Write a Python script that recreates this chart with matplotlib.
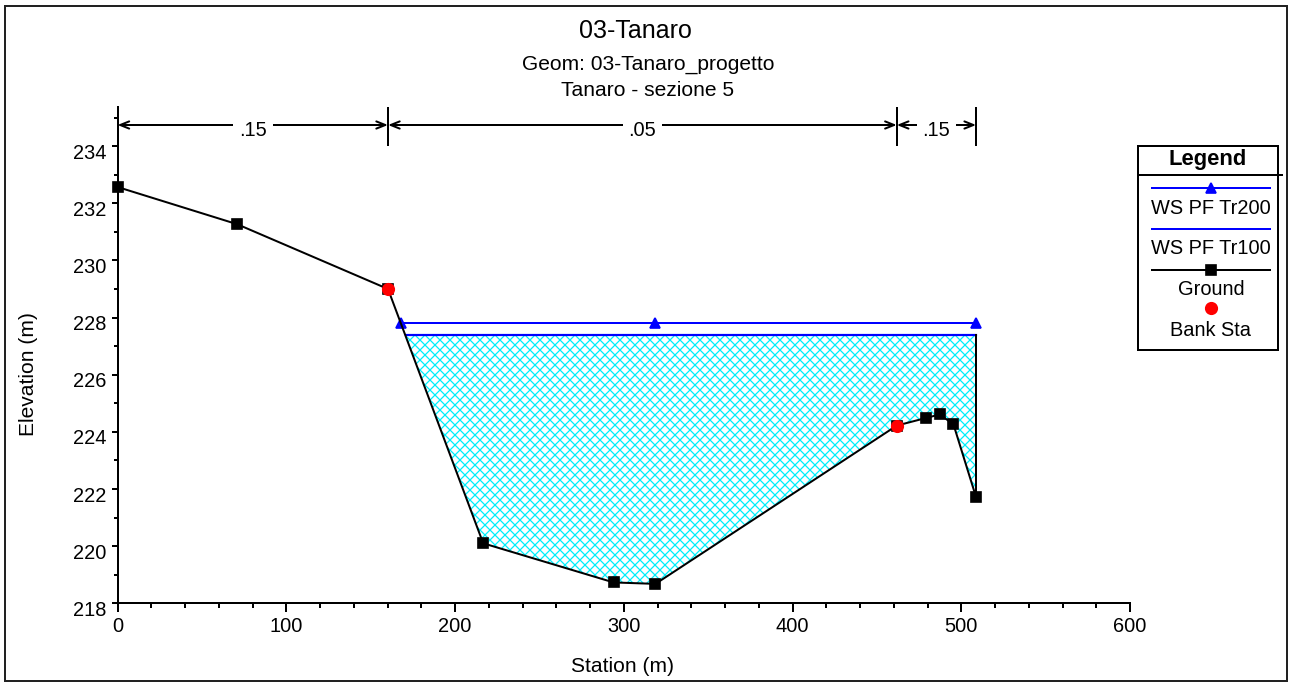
import numpy as np
import matplotlib
matplotlib.use('Agg')
import matplotlib.pyplot as plt
from matplotlib.patches import Rectangle
from matplotlib.lines import Line2D
from matplotlib.ticker import MultipleLocator
from matplotlib.transforms import ScaledTranslation

DPI = 120
W, H = 1290, 682


def pt(px):
    return px * 72.0 / DPI


def fx(px):
    return px / W


def fy(py):
    return 1 - py / H


plt.rcParams['font.family'] = ['Liberation Sans', 'DejaVu Sans']
CYAN = '#00eefa'
plt.rcParams['hatch.color'] = CYAN
plt.rcParams['hatch.linewidth'] = pt(1.25)

# ---- data ----
station = [0.0, 70.8, 160.3, 216.7, 294.0, 318.8, 461.8, 479.4, 487.3, 495.4, 508.8]
elev = [232.57, 231.27, 229.0, 220.1, 218.73, 218.68, 224.22, 224.49, 224.61, 224.26, 221.71]
bank_sta = [160.3, 461.8]
bank_elev = [229.0, 224.22]
ws200_sta = [168.1, 318.8, 508.8]
ws200 = 227.8
ws100_sta = [170.8, 508.8]
ws100 = 227.38
n_breaks = [0.0, 160.3, 461.8, 508.8]
n_values = ['.15', '.05', '.15']
x_ticks = [0, 100, 200, 300, 400, 500, 600]
y_ticks = [218, 220, 222, 224, 226, 228, 230, 232, 234]
n_bar_bottom, n_bar_top, n_arrow_y = 234.0, 235.37, 234.74

fig = plt.figure(figsize=(W / DPI, H / DPI), dpi=DPI)
ax = fig.add_axes([fx(117.5), fy(603.3), fx(1130) - fx(117.5), fy(107) - fy(603.3)])
ax.set_xlim(0, 600)
ax.set_ylim(218, n_bar_top)

st = np.array(station)
el = np.array(elev)
ax.fill_between(st, el, ws100, where=el <= ws100, interpolate=True,
                facecolor='none', edgecolor=CYAN, hatch='xxxx', linewidth=0, zorder=1)
ax.plot(ws100_sta, [ws100] * len(ws100_sta), color='blue', lw=pt(2.2), zorder=3)
ax.plot(ws200_sta, [ws200] * len(ws200_sta), color='blue', lw=pt(2.0),
        marker='^', ms=pt(10), zorder=3)
ax.plot([station[-1]] * 2, [elev[-1], ws100], color='black', lw=pt(2), zorder=3)
ax.plot(station, elev, color='black', lw=pt(2), marker='s', ms=pt(9.5), zorder=4,
        clip_on=False)
ax.plot(bank_sta, bank_elev, linestyle='none', marker='o', color='red',
        ms=pt(11.5), zorder=5)

# Manning's n annotation
ax.vlines(n_breaks, n_bar_bottom, n_bar_top, color='black', lw=pt(2), clip_on=False, zorder=6)
txt_off = ax.transData + ScaledTranslation(0, -5 / DPI, fig.dpi_scale_trans)
for i, lab in enumerate(n_values):
    a, b = n_breaks[i], n_breaks[i + 1]
    ax.annotate('', xy=(a, n_arrow_y), xytext=(b, n_arrow_y),
                arrowprops=dict(arrowstyle=f'<->,head_length={pt(9)},head_width={pt(3.6)}',
                                mutation_scale=1, shrinkA=0, shrinkB=0, lw=pt(2),
                                color='black'),
                annotation_clip=False, zorder=6)
    ax.text((a + b) / 2, n_arrow_y, lab, ha='center', va='center', fontsize=pt(20),
            transform=txt_off, zorder=7,
            bbox=dict(facecolor='white', edgecolor='none', pad=pt(6)))

# axes styling
for s in ['top', 'right']:
    ax.spines[s].set_visible(False)
for s in ['left', 'bottom']:
    ax.spines[s].set_linewidth(pt(2))
ax.set_xticks(x_ticks)
ax.set_yticks(y_ticks)
ax.xaxis.set_minor_locator(MultipleLocator(20))
ax.yaxis.set_minor_locator(MultipleLocator(1))
ax.tick_params(axis='x', which='major', length=pt(8.5), width=pt(2), labelsize=pt(20), pad=pt(5))
ax.tick_params(axis='x', which='minor', length=pt(5), width=pt(2))
ax.tick_params(axis='y', which='major', length=pt(6.3), width=pt(2), labelsize=pt(20), pad=pt(5))
ax.tick_params(axis='y', which='minor', length=pt(4), width=pt(2))
ax.set_ylim(218, n_bar_top)
for lbl in ax.get_yticklabels():
    lbl.set_transform(lbl.get_transform() + ScaledTranslation(0, -5 / DPI, fig.dpi_scale_trans))

# titles and axis labels
fig.text(fx(635), fy(30.7), '03-Tanaro', ha='center', va='center', fontsize=pt(25))
fig.text(fx(648), fy(64), 'Geom: 03-Tanaro_progetto', ha='center', va='center', fontsize=pt(21))
fig.text(fx(648), fy(90), 'Tanaro - sezione 5', ha='center', va='center', fontsize=pt(21))
fig.text(fx(622.5), fy(666), 'Station (m)', ha='center', va='center', fontsize=pt(21))
fig.text(fx(28), fy(374), 'Elevation (m)', ha='center', va='center', rotation=90, fontsize=pt(21))

# legend (HEC-RAS style)
fig.patches.append(Rectangle((fx(1138), fy(350)), fx(1278) - fx(1138), fy(146) - fy(350),
                             transform=fig.transFigure, fill=False, lw=pt(2), edgecolor='black'))
fig.lines.append(Line2D([fx(1138), fx(1282)], [fy(175), fy(175)], transform=fig.transFigure,
                        color='black', lw=pt(2)))
fig.text(fx(1208), fy(160), 'Legend', ha='center', va='center', fontsize=pt(22), fontweight='bold')
lx = [fx(1152), fx(1270)]
cx = fx(1211)
fig.lines.append(Line2D(lx, [fy(187.5)] * 2, transform=fig.transFigure, color='blue', lw=pt(2)))
fig.lines.append(Line2D([cx], [fy(187.5)], transform=fig.transFigure, color='blue',
                        marker='^', ms=pt(10), linestyle='none'))
fig.text(cx, fy(209), 'WS PF Tr200', ha='center', va='center', fontsize=pt(20))
fig.lines.append(Line2D(lx, [fy(229)] * 2, transform=fig.transFigure, color='blue', lw=pt(2)))
fig.text(cx, fy(249), 'WS PF Tr100', ha='center', va='center', fontsize=pt(20))
fig.lines.append(Line2D(lx, [fy(270)] * 2, transform=fig.transFigure, color='black', lw=pt(2)))
fig.lines.append(Line2D([cx], [fy(270)], transform=fig.transFigure, color='black',
                        marker='s', ms=pt(9.5), linestyle='none'))
fig.text(cx, fy(289), 'Ground', ha='center', va='center', fontsize=pt(20))
fig.lines.append(Line2D([cx], [fy(308)], transform=fig.transFigure, color='red',
                        marker='o', ms=pt(11.5), linestyle='none'))
fig.text(cx, fy(331), 'Bank Sta', ha='center', va='center', fontsize=pt(20))

# outer frame
fig.patches.append(Rectangle((fx(4.5), fy(680.5)), fx(1286.5) - fx(4.5), fy(5.5) - fy(680.5),
                             transform=fig.transFigure, fill=False, lw=pt(2), edgecolor='#222222'))

fig.savefig('out.png', dpi=DPI)
